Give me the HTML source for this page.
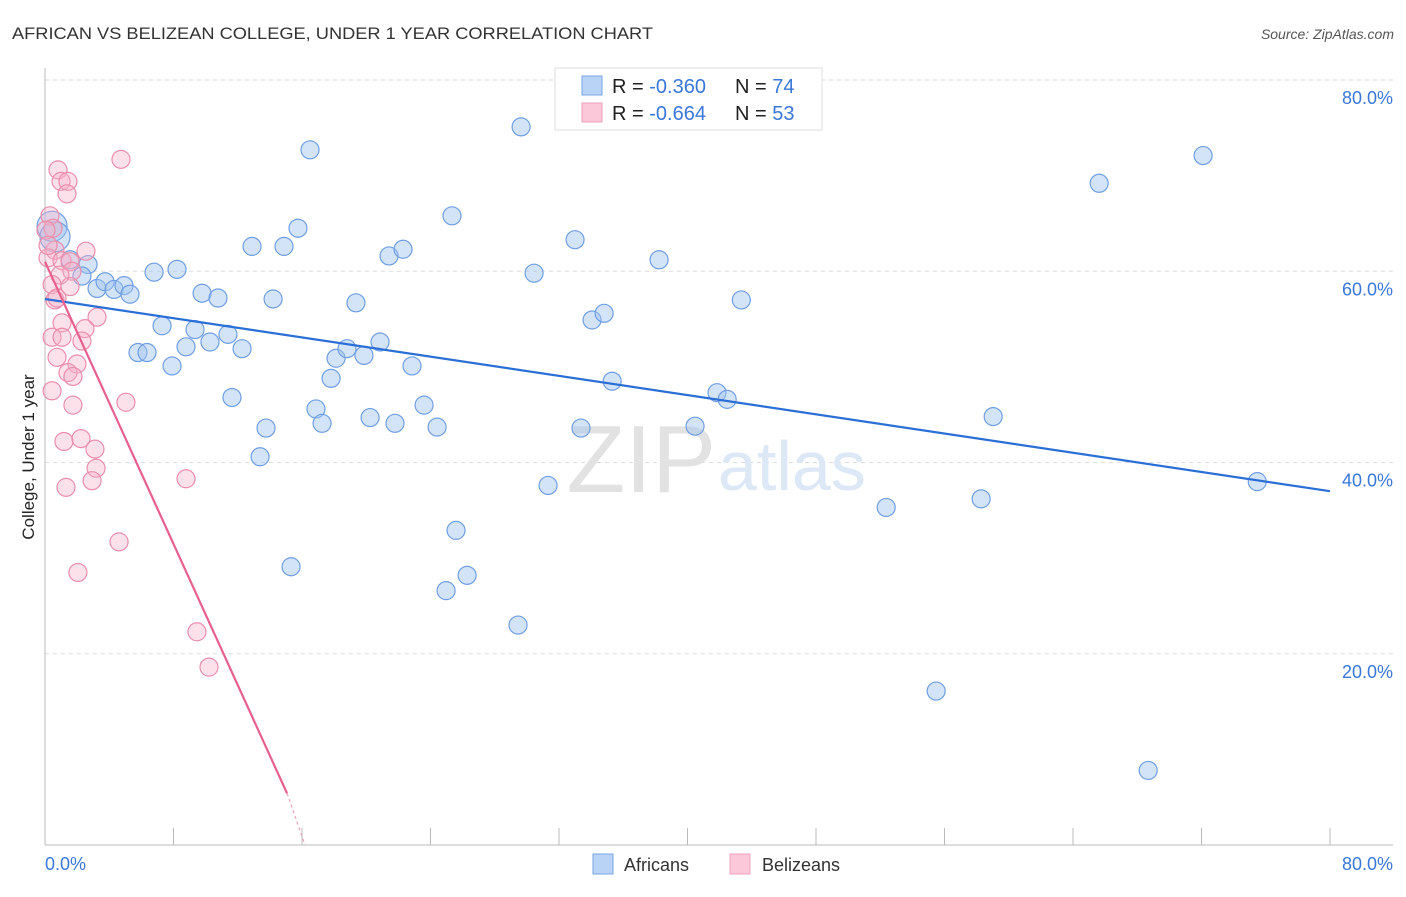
<!DOCTYPE html>
<html><head><meta charset="utf-8"><style>
body{margin:0;background:#fff;font-family:"Liberation Sans",sans-serif;}
svg text{font-family:"Liberation Sans",sans-serif;}
</style></head><body>
<svg id="chart" width="1406" height="892">
<text x="12" y="39" font-size="17" fill="#333" textLength="641" lengthAdjust="spacingAndGlyphs">AFRICAN VS BELIZEAN COLLEGE, UNDER 1 YEAR CORRELATION CHART</text>
<text x="1394" y="39" font-size="14" fill="#555" font-style="italic" text-anchor="end">Source: ZipAtlas.com</text>
<g id="grid"></g>
<text x="716" y="492" font-size="96" fill="#e2e2e2" text-anchor="end" font-family="Liberation Serif">ZIP</text>
<text x="718" y="490" font-size="70" fill="#dce8f6">atlas</text>
<line x1="45" y1="68" x2="45" y2="845" stroke="#bbb"/>
<line x1="45" y1="845" x2="1393" y2="845" stroke="#bbb"/>
<g id="xticks"></g>
<text x="45" y="870" font-size="18" fill="#3a78d8">0.0%</text>
<text x="1393" y="870" font-size="18" fill="#3a78d8" text-anchor="end">80.0%</text>
<text transform="translate(34,457) rotate(-90)" font-size="17" fill="#222" text-anchor="middle">College, Under 1 year</text>
<g id="pts"></g>
<g id="lines"></g>
<g>
<rect x="555" y="68" width="267" height="62" fill="#fff" stroke="#ddd"/>
<rect x="582" y="76" width="20" height="19" fill="#b8d3f5" stroke="#7aa6e4"/>
<rect x="582" y="103" width="20" height="19" fill="#fac8d8" stroke="#eea0b8"/>
<text x="612" y="93" font-size="20" fill="#222">R = <tspan fill="#3a78d8">-0.360</tspan><tspan x="735">N = </tspan><tspan fill="#3a78d8">74</tspan></text>
<text x="612" y="120" font-size="20" fill="#222">R = <tspan fill="#3a78d8">-0.664</tspan><tspan x="735">N = </tspan><tspan fill="#3a78d8">53</tspan></text>
</g>
<g>
<rect x="593" y="854" width="20" height="20" fill="#b8d3f5" stroke="#7aa6e4"/>
<text x="624" y="871" font-size="18" fill="#333">Africans</text>
<rect x="730" y="854" width="20" height="20" fill="#fac8d8" stroke="#eea0b8"/>
<text x="762" y="871" font-size="18" fill="#333">Belizeans</text>
</g>
</svg>
<script>
const yTicks=[20,40,60,80];
const xTickVals=[0,8,16,24,32,40,48,56,64,72,80];
const blueX=[0.44,0.62,1.56,2.68,2.30,3.24,3.74,4.30,4.92,5.29,6.79,8.22,7.29,9.34,5.79,6.35,7.91,8.78,10.27,11.39,12.27,9.78,10.77,11.64,13.76,13.39,12.89,14.88,15.75,16.50,14.20,16.87,17.25,18.12,18.80,19.86,17.81,19.36,20.86,20.24,21.79,22.85,21.42,22.29,23.60,24.41,25.34,29.64,30.45,33.00,34.06,34.81,35.31,31.32,33.37,25.59,26.28,24.97,15.32,29.45,38.23,40.47,41.84,42.47,43.35,52.37,55.48,58.28,59.03,65.63,68.68,72.10,75.47];
const blueY=[64.7,63.6,61.2,60.7,59.5,58.2,58.9,58.1,58.5,57.6,59.9,60.2,54.3,53.9,51.5,51.5,50.1,52.1,52.6,53.4,51.9,57.7,57.2,46.8,43.6,40.6,62.6,62.6,64.5,72.7,57.1,45.6,44.1,50.9,51.9,51.2,48.8,56.7,52.6,44.7,44.1,50.1,61.6,62.3,46.0,43.7,65.8,75.1,59.8,63.3,54.9,55.6,48.5,37.6,43.6,32.9,28.2,26.6,29.1,23.0,61.2,43.8,47.3,46.6,57.0,35.3,16.1,36.2,44.8,69.2,7.8,72.1,38.0];
const pinkX=[0.81,4.73,1.00,1.43,1.37,0.31,0.50,0.62,2.55,0.19,1.06,1.56,1.68,0.93,0.44,1.56,0.62,0.75,3.24,1.06,2.49,0.44,1.06,2.30,0.75,1.99,1.43,1.74,0.44,1.74,5.04,1.18,2.24,3.11,3.18,2.93,1.31,8.78,4.61,2.05,9.46,10.21,0.06,0.19];
const pinkY=[70.6,71.7,69.4,69.4,68.1,65.8,64.5,62.2,62.1,61.4,61.1,61.0,60.0,59.6,58.6,58.4,57.0,57.2,55.2,54.6,54.0,53.1,53.1,52.7,51.0,50.3,49.4,49.0,47.5,46.0,46.3,42.2,42.5,41.4,39.4,38.1,37.4,38.3,31.7,28.5,22.3,18.6,64.3,62.7];
const blueTrend=[[0,57.1],[80,37.0]];
const pinkTrend=[[0,61.0],[15.07,5.4]];
const pinkTrendDash=[[15.07,5.4],[16.19,0]];
const NS='http://www.w3.org/2000/svg';
const sx=v=>45+v*(1285/80);
const sy=v=>845-v*(765/80);
function mk(t,a,p){const e=document.createElementNS(NS,t);for(const k in a)e.setAttribute(k,a[k]);document.getElementById(p).appendChild(e);return e;}
yTicks.forEach(v=>{
 const l=mk('line',{x1:45,x2:1393,y1:sy(v),y2:sy(v),stroke:'#ddd','stroke-dasharray':'4,4'},'grid');
 
 
 const t=mk('text',{x:1393,y:sy(v)+24,'font-size':18,fill:'#3a78d8','text-anchor':'end'},'grid');
 t.textContent=v.toFixed(1)+'%';
 
 
});
xTickVals.forEach(v=>{
 const l=mk('line',{x1:sx(v),x2:sx(v),y1:828,y2:845,stroke:'#bbb'},'xticks');
 
 
});
blueX.forEach((x,i)=>{
 const r=i<2?15:9;
 const c=mk('circle',{cx:sx(x),cy:sy(blueY[i]),r:r,fill:'rgba(160,195,240,0.45)',stroke:'#6f9fe2','stroke-width':1.2},'pts');
 
 
});
pinkX.forEach((x,i)=>{
 const c=mk('circle',{cx:sx(x),cy:sy(pinkY[i]),r:9,fill:'rgba(246,175,200,0.38)',stroke:'#ea8eab','stroke-width':1.2},'pts');
 
 
});
const bl=mk('line',{x1:sx(blueTrend[0][0]),y1:sy(blueTrend[0][1]),x2:sx(blueTrend[1][0]),y2:sy(blueTrend[1][1]),stroke:'#2a6fd6','stroke-width':2.2},'lines');


const pl=mk('line',{x1:sx(pinkTrend[0][0]),y1:sy(pinkTrend[0][1]),x2:sx(pinkTrend[1][0]),y2:sy(pinkTrend[1][1]),stroke:'#e8608c','stroke-width':2.2},'lines');


const pd=mk('line',{x1:sx(pinkTrendDash[0][0]),y1:sy(pinkTrendDash[0][1]),x2:sx(pinkTrendDash[1][0]),y2:sy(pinkTrendDash[1][1]),stroke:'#e8a0b8','stroke-width':1.2,'stroke-dasharray':'3,3'},'lines');


</script>
</body></html>
